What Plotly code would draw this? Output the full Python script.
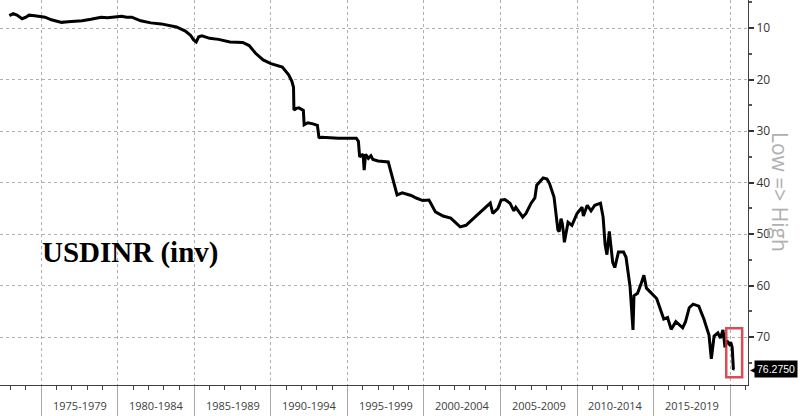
import plotly.graph_objects as go

# ---- data ----
dates = [
    "1972-12-01", "1973-03-01", "1973-06-01", "1973-10-01", "1974-01-01", "1974-03-15",
    "1974-08-01", "1974-12-01", "1975-04-01", "1975-09-01", "1976-05-01", "1976-10-01",
    "1977-03-01", "1977-09-01", "1978-04-01", "1978-12-01", "1979-05-01", "1979-10-01",
    "1980-04-01", "1980-08-01", "1980-12-01", "1981-07-01", "1982-03-01", "1982-11-01",
    "1983-06-01", "1983-11-01", "1984-06-01", "1984-10-01", "1984-12-15", "1985-02-15",
    "1985-04-15", "1985-07-01", "1986-01-01", "1986-08-01", "1987-05-01", "1988-03-01",
    "1988-08-01", "1989-01-01", "1989-07-01", "1990-01-01", "1990-10-01", "1991-03-01",
    "1991-05-15", "1991-06-25", "1991-07-05", "1991-09-01", "1991-11-01", "1992-02-15",
    "1992-03-05", "1992-06-01", "1992-10-01", "1993-01-15", "1993-02-20", "1993-03-10",
    "1993-05-01", "1994-06-01", "1995-08-01", "1995-09-20", "1995-10-20", "1996-01-10",
    "1996-02-05", "1996-03-10", "1996-05-15", "1996-07-15", "1996-09-01", "1997-01-01",
    "1997-09-01", "1997-12-10", "1998-04-01", "1998-08-01", "1999-03-01", "1999-07-01",
    "1999-12-01", "2000-05-01", "2000-10-01", "2001-04-01", "2001-10-01", "2002-05-15",
    "2002-10-01", "2003-05-01", "2004-01-01", "2004-05-01", "2004-07-01", "2004-11-01",
    "2005-01-15", "2005-04-15", "2005-08-15", "2005-11-15", "2006-01-01", "2006-06-15",
    "2006-09-01", "2007-01-01", "2007-04-01", "2007-05-15", "2007-10-15", "2008-01-15",
    "2008-03-15", "2008-07-01", "2008-10-01", "2008-11-01", "2008-12-15", "2009-01-15",
    "2009-02-15", "2009-03-05", "2009-06-01", "2009-09-01", "2010-01-01", "2010-05-01",
    "2010-06-01", "2010-09-01", "2010-12-01", "2011-03-01", "2011-07-15", "2011-09-15",
    "2011-11-01", "2011-12-15", "2012-02-10", "2012-05-01", "2012-06-20", "2012-09-15",
    "2013-01-15", "2013-03-15", "2013-06-20", "2013-08-28", "2013-09-20", "2013-12-15",
    "2014-03-15", "2014-05-15", "2014-07-15", "2014-11-15", "2015-03-15", "2015-09-01",
    "2015-12-01", "2016-02-25", "2016-06-15", "2016-11-25", "2017-02-01", "2017-05-01",
    "2017-08-01", "2017-12-15", "2018-04-15", "2018-08-15", "2018-10-10", "2018-12-15",
    "2019-03-15", "2019-05-15", "2019-07-15", "2019-09-01", "2019-10-15", "2019-12-15",
    "2020-01-15", "2020-02-20", "2020-03-05", "2020-03-12", "2020-03-20", "2020-03-24",
]
values = [
    7.6, 7.2, 7.5, 8.2, 7.9, 7.5,
    7.6, 7.7, 7.9, 8.4, 8.9, 8.8,
    8.7, 8.6, 8.3, 7.9, 8.0, 7.8,
    7.7, 7.9, 7.9, 8.6, 9.0, 9.2,
    9.6, 9.8, 10.6, 11.4, 12.3, 12.7,
    11.7, 11.5, 12.0, 12.2, 12.7, 12.8,
    13.4, 14.9, 16.2, 16.9, 17.6, 19.1,
    20.3, 21.5, 25.9, 25.6, 25.5, 26.0,
    28.8, 28.4, 28.6, 28.9, 31.2, 31.3,
    31.2, 31.4, 31.4, 32.0, 35.0, 34.5,
    37.6, 34.5, 35.3, 34.8, 35.5, 35.8,
    36.0, 39.0, 42.4, 42.0, 42.5, 43.0,
    43.5, 43.4, 45.7, 46.5, 46.9, 48.6,
    48.3, 46.7, 45.0, 44.0, 46.0, 45.0,
    43.4, 43.3, 44.0, 45.5, 44.8, 46.7,
    46.0, 44.0, 43.0, 40.5, 39.1, 39.3,
    40.2, 42.8, 49.2, 49.5, 47.0, 48.0,
    50.0, 51.6, 47.7, 48.3, 46.0, 44.8,
    46.5, 44.4, 45.5, 44.4, 44.0, 46.7,
    52.0, 54.0, 49.5, 55.5, 56.5, 53.5,
    53.5, 54.5, 60.3, 68.6, 62.0, 61.5,
    59.5, 58.0, 60.5, 61.5, 62.5, 66.5,
    66.2, 68.5, 67.0, 68.2, 67.0, 64.3,
    63.6, 64.0, 66.5, 69.6, 74.2, 69.8,
    69.2, 70.2, 68.6, 72.0, 70.7, 71.4,
    71.0, 72.0, 73.5, 74.3, 76.3, 76.275,
]
period_start_years = [1975, 1980, 1985, 1990, 1995, 2000, 2005, 2010, 2015]
period_labels = ["1975-1979", "1980-1984", "1985-1989", "1990-1994", "1995-1999",
                 "2000-2004", "2005-2009", "2010-2014", "2015-2019"]
last_value_text = "76.2750"
chart_title = "USDINR (inv)"
axis_title = "Low => High"

fig = go.Figure()
fig.add_trace(go.Scatter(
    x=dates, y=values, mode="lines",
    line=dict(color="black", width=3),
    hoverinfo="skip",
))

# period labels below the axis
for yr, lab in zip(period_start_years, period_labels):
    fig.add_annotation(
        x=f"{yr + 2}-07-02", y=0, xref="x", yref="paper",
        text=lab, showarrow=False, yanchor="top", yshift=-11,
        font=dict(family="Open Sans", size=11, color="#404040"),
    )

# title
fig.add_annotation(
    x=40 / 748, y=0.345, xref="paper", yref="paper", xanchor="left", yanchor="middle",
    text=f"<b>{chart_title}</b>", showarrow=False,
    font=dict(family="Liberation Serif", size=29, color="black"),
)

# right axis title
fig.add_annotation(
    x=780 / 748, y=1 - 192 / 385, xref="paper", yref="paper", textangle=90,
    text=axis_title, showarrow=False, xanchor="center", yanchor="middle",
    font=dict(family="Open Sans", size=21, color="#b0b0b0"),
)

# last value tag
fig.add_annotation(
    x=1, y=values[-1], xref="paper", yref="y", xanchor="left", yanchor="middle",
    xshift=6, text=last_value_text, showarrow=False, bgcolor="black",
    font=dict(family="Liberation Sans", size=10.5, color="white"), borderpad=2,
)
fig.add_annotation(
    x=1, y=values[-1], xref="paper", yref="y", xanchor="left", yanchor="middle",
    xshift=0, text="◀", showarrow=False,
    font=dict(family="DejaVu Sans", size=10, color="black"),
)

# red highlight box
fig.add_shape(
    type="rect", xref="x", yref="y",
    x0="2019-10-01", x1="2020-10-15", y0=68.3, y1=77.8,
    line=dict(color="rgba(215,45,55,0.85)", width=2.5),
    fillcolor="rgba(0,0,0,0)",
)

fig.update_layout(
    width=800, height=416,
    margin=dict(l=0, r=52, t=0, b=31),
    plot_bgcolor="white", paper_bgcolor="white",
    showlegend=False,
    xaxis=dict(
        type="date", range=["1972-04-22", "2021-03-03"],
        showgrid=True, gridcolor="#b0b0b0", griddash="dot", gridwidth=1,
        dtick="M60", tick0="1975-01-01",
        ticks="outside", ticklen=31, tickcolor="#a8a8a8", tickwidth=1,
        showticklabels=False, showline=True, linecolor="#404040", linewidth=1,
        zeroline=False,
        minor=dict(dtick="M12", tick0="1975-01-01", ticks="outside", ticklen=4,
                   tickcolor="#404040", showgrid=False),
    ),
    yaxis=dict(
        side="right", range=[79.3, 4.56],
        dtick=10, tick0=0,
        showgrid=True, gridcolor="#b0b0b0", griddash="dot", gridwidth=1,
        ticks="outside", ticklen=5, tickwidth=2, tickcolor="#333333",
        showline=True, linecolor="#404040", linewidth=1, zeroline=False,
        tickfont=dict(family="Open Sans", size=12, color="#333333"),
        minor=dict(dtick=5, tick0=0, ticks="outside", ticklen=3, tickcolor="#555555",
                   showgrid=False),
    ),
)

fig.write_html("out.html", config={"displayModeBar": False},
               post_script="document.body.style.margin='0px';")
